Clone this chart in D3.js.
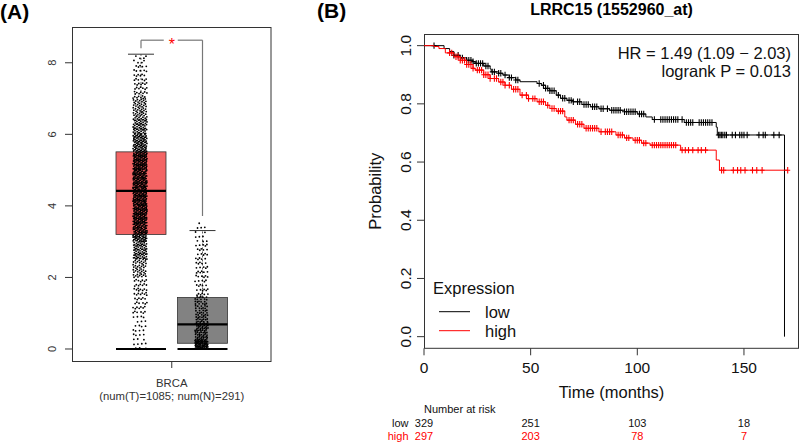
<!DOCTYPE html>
<html><head><meta charset="utf-8">
<script src="https://cdn.jsdelivr.net/npm/d3@7"></script>
<style>
body{margin:0;background:#fff}
svg{display:block}
text{font-family:"Liberation Sans",Arial,Helvetica,sans-serif}
</style>
</head><body>
<svg id="c" width="800" height="443"></svg>
<script>
// ================= Panel A data (box plot, BRCA) =================
const groups = ["Tumor", "Normal"];
const boxQ1 = [3.20, 0.16];
const boxMedian = [4.42, 0.69];
const boxQ3 = [5.51, 1.44];
const whiskerHigh = [8.24, 3.31];
const whiskerLow = [0, 0];
const pointMax = [8.24, 3.55];
// distribution of the jittered points, read as counts per value bin
const tumorBinEdges = [0,0.5,1,1.5,2,2.5,3,3.5,4,4.5,5,5.5,6,6.5,7,7.5,8,8.24];
const tumorBinCounts = [15,15,25,30,45,75,110,125,125,120,125,95,70,50,30,22,8];
const normalBinEdges = [0,0.25,0.5,0.75,1,1.25,1.5,2,2.5,3,3.5,3.56];
const normalBinCounts = [80,35,35,25,20,20,22,22,20,11,1];
const yTicksA = [0, 2, 4, 6, 8];
const xLabelA = ["BRCA", "(num(T)=1085; num(N)=291)"];
const sigLabel = "*";

// ================= Panel B data (Kaplan-Meier) =================
const kmTitle = "LRRC15 (1552960_at)";
const lowTime = [0, 9.4, 12, 14, 17, 20, 23, 24, 28, 31, 31.5, 35, 37, 40, 43, 45, 53, 55, 57, 59, 62, 64, 67, 70, 74, 78, 82, 87, 94, 100, 104, 107, 122, 137, 137.5, 169];
const lowSurv = [1, 0.99, 0.98, 0.967, 0.958, 0.95, 0.945, 0.939, 0.93, 0.92, 0.91, 0.905, 0.899, 0.89, 0.882, 0.876, 0.87, 0.864, 0.853, 0.845, 0.83, 0.819, 0.812, 0.807, 0.798, 0.79, 0.783, 0.778, 0.773, 0.765, 0.755, 0.746, 0.736, 0.72, 0.693, 0];
const highTime = [0, 4.7, 7, 10, 14, 17, 20, 23, 24, 28, 31, 35, 38, 41, 45, 49, 53, 57, 59, 62, 66, 67, 71, 75, 82, 90, 94, 98, 102, 106, 120.3, 137, 138.5, 170.5];
const highSurv = [1, 0.997, 0.99, 0.975, 0.962, 0.95, 0.935, 0.922, 0.916, 0.9, 0.887, 0.875, 0.864, 0.85, 0.83, 0.818, 0.807, 0.795, 0.784, 0.775, 0.755, 0.744, 0.73, 0.716, 0.704, 0.693, 0.683, 0.675, 0.665, 0.658, 0.641, 0.607, 0.572, 0.572];
const lowCensor = [4.7, 14, 16, 18, 20, 21, 22, 23, 24.5, 25.5, 26.5, 27.5, 29, 30, 32, 33, 35, 36, 38, 40, 41, 43, 44, 54, 56, 57, 58, 59, 60, 61, 63, 65, 66, 68, 69, 70, 72, 73, 75, 76, 77, 79, 80, 81, 83, 84, 86, 88, 89, 90, 91, 92, 94, 95, 96, 97, 98, 99, 101, 102, 103, 108, 111, 112, 113, 114, 115, 116, 117, 118, 119, 121, 123, 124, 125, 126, 129, 130, 131, 132, 133, 134, 135, 138, 138.7, 139.4, 140.1, 141, 141.8, 144.5, 146, 148, 149, 150, 151.5, 157, 159, 160, 164, 166.5];
const highCensor = [12, 13, 15, 16, 17, 18, 19, 20, 21, 22, 23, 25, 26, 27, 28, 29, 30, 31, 33, 34, 36, 37, 38, 40, 42, 43, 44, 46, 48, 49, 51, 52, 54, 55, 56, 58, 60, 61, 63, 64, 65, 68, 69, 70, 72, 73, 74, 76, 77, 78, 79, 80, 81, 83, 85, 86, 87, 88, 91, 92, 93, 95, 96, 99, 100, 101, 103, 104, 107, 108, 109, 110, 111, 112, 113, 114, 115, 116, 117, 118, 121, 122.5, 124, 126, 128.5, 130, 132, 139.5, 140.5, 145, 147, 148.5, 150.5, 154, 156, 158.5, 170.5];
const xTicksB = [0, 50, 100, 150];
const yTicksB = [0, 0.2, 0.4, 0.6, 0.8, 1.0];
const riskLabels = ["low", "high"];
const riskLow = [329, 251, 103, 18];
const riskHigh = [297, 203, 78, 7];
const statText = ["HR = 1.49 (1.09 \u2212 2.03)", "logrank P = 0.013"];
const legendLabels = ["low", "high"];

// ================= Drawing =================
const svg = d3.select("#c");
const RED = "#ff0000";

svg.append("text").attr("x", 0).attr("y", 19).attr("font-size", 21).attr("font-weight", "bold").text("(A)");
svg.append("text").attr("x", 317).attr("y", 18).attr("font-size", 21).attr("font-weight", "bold").text("(B)");

// ---------- Panel A ----------
const yA = d3.scaleLinear().domain([-0.355, 9.0]).range([361.7, 27]);
const xA = d3.scaleBand().domain(groups).range([116, 227.5]).paddingInner(0.187).paddingOuter(0);
const gA = svg.append("g");
const fills = ["#f46464", "#828282"];
const jitterW = [7, 6.5];

gA.append("rect").attr("x", 72.5).attr("y", 27.5).attr("width", 198.5).attr("height", 334)
  .attr("fill", "none").attr("stroke", "#333").attr("stroke-width", 1);

yTicksA.forEach(v => {
  const y = yA(v);
  gA.append("line").attr("x1", 65).attr("x2", 72).attr("y1", y).attr("y2", y).attr("stroke", "#333");
  gA.append("text").attr("transform", `translate(${72 - 16.5},${y}) rotate(-90)`)
    .attr("text-anchor", "middle").attr("font-size", 11).attr("fill", "#333").text(v);
});
const xMid = (xA("Tumor") + xA("Normal") + xA.bandwidth()) / 2;
gA.append("line").attr("x1", xMid).attr("x2", xMid).attr("y1", 361.7).attr("y2", 368).attr("stroke", "#333");
gA.append("text").attr("x", xMid).attr("y", 387).attr("text-anchor", "middle").attr("font-size", 11.3).attr("fill", "#333").text(xLabelA[0]);
gA.append("text").attr("x", xMid).attr("y", 400).attr("text-anchor", "middle").attr("font-size", 11.3).attr("fill", "#333").text(xLabelA[1]);

const binEdges = [tumorBinEdges, normalBinEdges];
const binCounts = [tumorBinCounts, normalBinCounts];

groups.forEach((g, gi) => {
  const x0 = xA(g), bw = xA.bandwidth(), cx = x0 + bw / 2;
  gA.append("rect").attr("x", x0).attr("y", yA(boxQ3[gi])).attr("width", bw)
    .attr("height", yA(boxQ1[gi]) - yA(boxQ3[gi])).attr("fill", fills[gi]).attr("stroke", "#333").attr("stroke-width", 0.8);
  gA.append("line").attr("x1", cx).attr("x2", cx).attr("y1", yA(boxQ3[gi])).attr("y2", yA(whiskerHigh[gi]))
    .attr("stroke", "#333").attr("stroke-width", 0.8).attr("stroke-dasharray", "2,2");
  gA.append("line").attr("x1", cx - bw * 0.26).attr("x2", cx + bw * 0.26).attr("y1", yA(whiskerHigh[gi])).attr("y2", yA(whiskerHigh[gi]))
    .attr("stroke", "#333").attr("stroke-width", 1);
  // jittered points: values spread within each read-off bin (layout only)
  const edges = binEdges[gi], counts = binCounts[gi];
  let n = 0;
  const pts = [];
  counts.forEach((c, bi) => {
    const lo = edges[bi], hi = edges[bi + 1];
    for (let i = 0; i < c; i++) {
      const fy = (0.5 + (i + 1) * 0.7548776662) % 1;
      const fx = (0.5 + (n + 1) * 0.5698402910) % 1;
      const v = lo + fy * (hi - lo);
      pts.push([cx - 1 + (fx * 2 - 1) * jitterW[gi], yA(v)]);
      n++;
    }
  });
  gA.append("g").selectAll("circle").data(pts).join("circle")
    .attr("cx", d => d[0]).attr("cy", d => d[1]).attr("r", 0.9).attr("fill", "#000");
  gA.append("line").attr("x1", x0).attr("x2", x0 + bw).attr("y1", yA(boxMedian[gi])).attr("y2", yA(boxMedian[gi]))
    .attr("stroke", "#000").attr("stroke-width", 2.2);
  gA.append("line").attr("x1", x0).attr("x2", x0 + bw).attr("y1", yA(whiskerLow[gi])).attr("y2", yA(whiskerLow[gi]))
    .attr("stroke", "#000").attr("stroke-width", 2.2);
});

{
  const cT = xA("Tumor") + xA.bandwidth() / 2, cN = xA("Normal") + xA.bandwidth() / 2;
  const yTop = yA(d3.max(pointMax)) - 14;
  const br = gA.append("g").attr("stroke", "#777").attr("stroke-width", 1.2).attr("fill", "none");
  br.append("line").attr("x1", cT).attr("x2", cT).attr("y1", yTop).attr("y2", yA(pointMax[0]) - 6);
  br.append("line").attr("x1", cN).attr("x2", cN).attr("y1", yTop).attr("y2", yA(pointMax[1]) - 6);
  br.append("line").attr("x1", cT).attr("x2", xMid - 8).attr("y1", yTop).attr("y2", yTop);
  br.append("line").attr("x1", xMid + 6).attr("x2", cN).attr("y1", yTop).attr("y2", yTop);
  gA.append("text").attr("x", xMid).attr("y", yTop + 10).attr("text-anchor", "middle")
    .attr("font-size", 16).attr("fill", RED).text(sigLabel);
}

// ---------- Panel B ----------
const xB = d3.scaleLinear().domain([0, 175.8]).range([424, 799]);
const yB = d3.scaleLinear().domain([-0.04, 1.04]).range([348.3, 34]);
const gB = svg.append("g");

gB.append("text").attr("x", (xB.range()[0] + xB.range()[1]) / 2).attr("y", 15).attr("text-anchor", "middle")
  .attr("font-size", 16).attr("font-weight", "bold").text(kmTitle);

gB.append("rect").attr("x", 424.5).attr("y", 34.5).attr("width", 374).attr("height", 313.8)
  .attr("fill", "none").attr("stroke", "#333").attr("stroke-width", 1);

yTicksB.forEach(v => {
  const y = yB(v);
  gB.append("line").attr("x1", 417).attr("x2", 424).attr("y1", y).attr("y2", y).attr("stroke", "#333");
  gB.append("text").attr("transform", `translate(${424 - 13.5},${y}) rotate(-90)`)
    .attr("text-anchor", "middle").attr("font-size", 15.5).attr("fill", "#111").text(d3.format(".1f")(v));
});
xTicksB.forEach(v => {
  const x = xB(v);
  gB.append("line").attr("x1", x).attr("x2", x).attr("y1", 348.3).attr("y2", 355.3).attr("stroke", "#333");
  gB.append("text").attr("x", x).attr("y", 373).attr("text-anchor", "middle").attr("font-size", 15.5).attr("fill", "#111").text(v);
});
gB.append("text").attr("x", (424 + 799) / 2).attr("y", 398).attr("text-anchor", "middle")
  .attr("font-size", 16.5).attr("fill", "#111").text("Time (months)");
gB.append("text").attr("transform", `translate(381,${(yB(0) + yB(1)) / 2}) rotate(-90)`)
  .attr("text-anchor", "middle").attr("font-size", 16.5).attr("fill", "#111").text("Probability");

const stepLine = d3.line().x(d => xB(d[0])).y(d => yB(d[1])).curve(d3.curveStepAfter);
function survAt(times, surv, t) {
  let s = surv[0];
  for (let i = 0; i < times.length; i++) { if (times[i] <= t) s = surv[i]; }
  return s;
}
function drawCurve(times, surv, censor, color) {
  const data = times.map((t, i) => [t, surv[i]]);
  gB.append("path").attr("d", stepLine(data)).attr("fill", "none").attr("stroke", color).attr("stroke-width", 1);
  const marks = censor.map(t => [xB(t), yB(survAt(times, surv, t))]);
  gB.append("path").attr("d", marks.map(([x, y]) => `M${x - 2.5},${y}H${x + 2.5}M${x},${y - 3.2}V${y + 3.2}`).join(""))
    .attr("fill", "none").attr("stroke", color).attr("stroke-width", 1.1);
}
drawCurve(lowTime, lowSurv, lowCensor, "#000");
drawCurve(highTime, highSurv, highCensor, RED);

gB.append("text").attr("x", 791).attr("y", 59).attr("text-anchor", "end").attr("font-size", 16.5).attr("fill", "#111").text(statText[0]);
gB.append("text").attr("x", 791).attr("y", 77).attr("text-anchor", "end").attr("font-size", 16.5).attr("fill", "#111").text(statText[1]);

gB.append("text").attr("x", 433).attr("y", 294).attr("font-size", 16.5).attr("fill", "#111").text("Expression");
[["#000", 311.7], [RED, 330.7]].forEach(([c, y], i) => {
  gB.append("line").attr("x1", 439).attr("x2", 470).attr("y1", y).attr("y2", y).attr("stroke", c).attr("stroke-width", 1);
  gB.append("text").attr("x", 485).attr("y", y + 6).attr("font-size", 16.5).attr("fill", "#111").text(legendLabels[i]);
});

gB.append("text").attr("x", 424).attr("y", 413).attr("font-size", 11).attr("fill", "#111").text("Number at risk");
[[riskLow, "#111", 427], [riskHigh, RED, 440]].forEach(([arr, c, y], i) => {
  gB.append("text").attr("x", 408.5).attr("y", y).attr("text-anchor", "end").attr("font-size", 11).attr("fill", c).text(riskLabels[i]);
  arr.forEach((v, j) => {
    gB.append("text").attr("x", xB(xTicksB[j])).attr("y", y).attr("text-anchor", "middle").attr("font-size", 11).attr("fill", c).text(v);
  });
});
</script>
</body></html>
